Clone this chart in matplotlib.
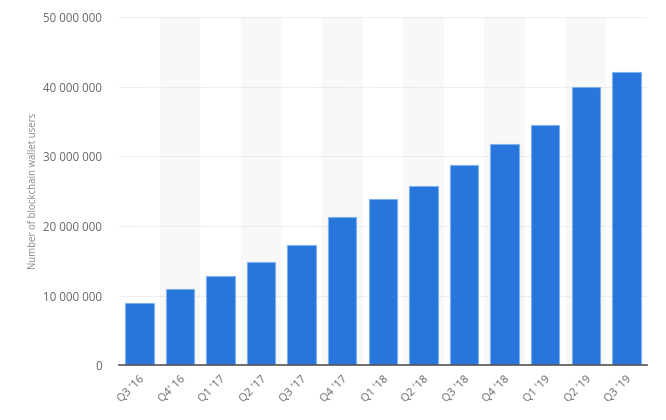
import numpy as np
import matplotlib.pyplot as plt

plt.rcParams['font.family'] = ['Open Sans', 'DejaVu Sans']

# Datos: usuarios de monederos blockchain por trimestre
trimestres = ["Q3 '16", "Q4' 16", "Q1 '17", "Q2 '17", "Q3 '17", "Q4 '17", "Q1 '18",
              "Q2 '18", "Q3 '18", "Q4 '18", "Q1 '19", "Q2 '19", "Q3 '19"]
usuarios = [8.9, 10.9, 12.8, 14.8, 17.2, 21.3, 23.8, 25.7, 28.8, 31.8, 34.5, 39.9, 42.1]
usuarios = [u * 1e6 for u in usuarios]
yticks = [0, 10e6, 20e6, 30e6, 40e6, 50e6]

fig = plt.figure(figsize=(6.66, 4.2), dpi=100)
ax = fig.add_axes([0.1787, 0.130, 0.7923, 0.830])

x = np.arange(len(trimestres))

# bandas grises alternas
for i in x:
    if i % 2 == 1:
        ax.axvspan(i - 0.5, i + 0.5, color='#f8f8f8', zorder=0, lw=0)

ax.bar(x, usuarios, width=0.7, color='#2875dc', edgecolor='#7fb0ee', linewidth=0.8, zorder=3)

ax.set_xlim(-0.5, len(trimestres) - 0.5)
ax.set_ylim(0, 50e6)
ax.set_yticks(yticks)
ax.set_yticklabels([f"{int(v):,}".replace(',', ' ') for v in yticks])
ax.grid(axis='y', color='#dcdcdc', linestyle=(0, (1, 1)), linewidth=0.7, zorder=1)
ax.set_axisbelow(True)

ax.set_xticks(x)
ax.set_xticklabels(trimestres, rotation=45, ha='right', va='top', rotation_mode='anchor')

for s in ['top', 'right', 'left']:
    ax.spines[s].set_visible(False)
ax.spines['bottom'].set_color('#555555')
ax.spines['bottom'].set_linewidth(1.2)
ax.spines['bottom'].set_zorder(4)

ax.tick_params(axis='y', length=0, pad=12, labelsize=8.3, labelcolor='#666666')
ax.tick_params(axis='x', length=0, pad=6, labelsize=8, labelcolor='#666666')

ax.set_ylabel('Number of blockchain wallet users', fontsize=6.9, color='#888888', labelpad=3)

plt.savefig('out.png', dpi=100)
